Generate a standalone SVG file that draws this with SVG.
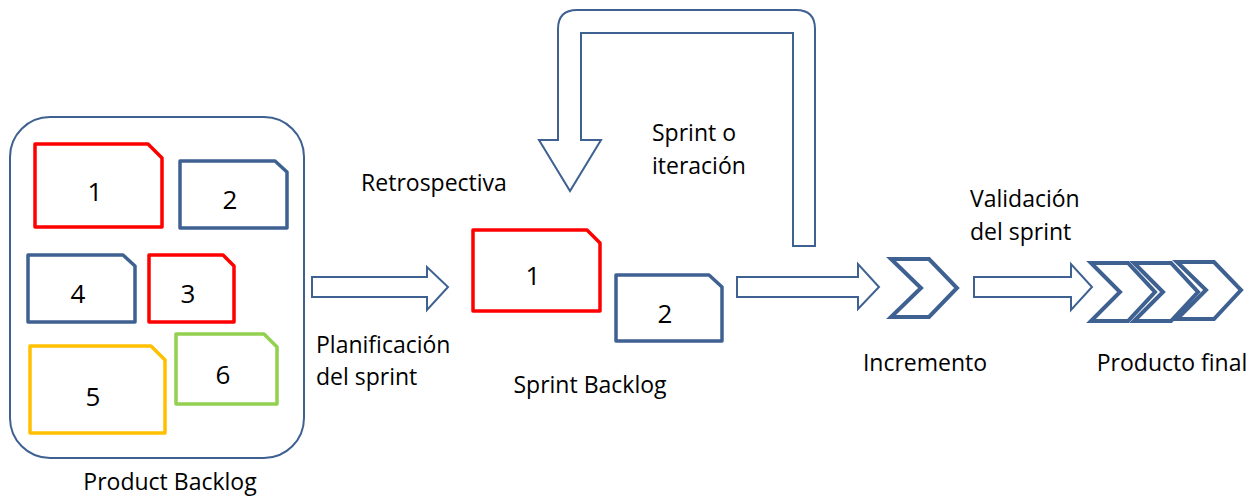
<svg xmlns="http://www.w3.org/2000/svg" width="1260" height="497" viewBox="0 0 1260 497">
<style>
.lbl{font-family:"Open Sans","Liberation Sans",sans-serif;font-size:23px;fill:#000}
.num{font-family:"Open Sans","Liberation Sans",sans-serif;font-size:26px;fill:#000;text-anchor:middle}
.card{fill:#fff;stroke-width:3.5;stroke-linejoin:round}
.blue{stroke:#3E6191}
.red{stroke:#FF0000}
.orange{stroke:#FFC000}
.green{stroke:#92D050}
.arrow{fill:#fff;stroke:#3E6191;stroke-width:2;stroke-linejoin:miter}
.chev{fill:#fff;stroke:#3E6191;stroke-width:4;stroke-linejoin:miter}
</style>
<rect width="1260" height="497" fill="#fff"/>
<g id="product-backlog">
<rect x="10" y="117" width="294" height="341" rx="40" ry="40" fill="#fff" stroke="#3E6191" stroke-width="2"/>
<g id="pb-1"><path class="card red" d="M35,144 H148 L162,158 V227 H35 Z"/><text class="num" x="95" y="201">1</text></g>
<g id="pb-2"><path class="card blue" d="M180,161 H275 L287,172 V228 H180 Z"/><text class="num" x="230" y="209">2</text></g>
<g id="pb-4"><path class="card blue" d="M28,255 H123 L135,266 V322 H28 Z"/><text class="num" x="78" y="303">4</text></g>
<g id="pb-3"><path class="card red" d="M149,255 H223 L234,266 V322 H149 Z"/><text class="num" x="188" y="303">3</text></g>
<g id="pb-5"><path class="card orange" d="M30,346 H151 L165,360 V433 H30 Z"/><text class="num" x="93" y="406">5</text></g>
<g id="pb-6"><path class="card green" d="M176,334 H264 L277,347 V404 H176 Z"/><text class="num" x="223" y="384">6</text></g>
<text class="lbl" x="170" y="490" text-anchor="middle">Product Backlog</text>
</g>
<g id="sprint-backlog">
<g id="sb-1"><path class="card red" d="M473,230 H587 L600,243 V311 H473 Z"/><text class="num" x="533" y="285">1</text></g>
<g id="sb-2"><path class="card blue" d="M616,275 H709 L722,287 V341 H616 Z"/><text class="num" x="665" y="323">2</text></g>
<text class="lbl" x="590" y="393" text-anchor="middle">Sprint Backlog</text>
</g>
<g id="incremento">
<path class="chev" d="M891,259 H929 L957,288 L929,317 H891 L921,288 Z"/>
<text class="lbl" x="925" y="371" text-anchor="middle">Incremento</text>
</g>
<g id="producto-final">
<path class="chev" d="M1091,263 H1128 L1155,292 L1128,321 H1091 L1120,292 Z"/>
<path class="chev" d="M1134,263 H1171 L1198,292 L1171,321 H1134 L1163,292 Z"/>
<path class="chev" d="M1177,262 H1214 L1241,290 L1214,319 H1177 L1206,290 Z"/>
<text class="lbl" x="1172" y="371" text-anchor="middle">Producto final</text>
</g>
<g id="connectors">
<path class="arrow" d="M312,277 H427 V267 L448,287 L427,310 V297 H312 Z"/>
<path class="arrow" d="M737,277 H858 V264 L879,287 L858,309 V297 H737 Z"/>
<path class="arrow" d="M974,277 H1071 V264 L1092,287 L1071,310 V297 H974 Z"/>
<path class="arrow" stroke-width="2.5" d="M793,246 V33 H581 V140 H601 L570,191 L539,140 H558 V29 Q558,10 577,10 H796 Q815,10 815,29 V246 Z"/>
</g>
<g id="labels">
<text class="lbl" x="434" y="191" text-anchor="middle">Retrospectiva</text>
<text class="lbl" x="316" y="353">Planificación</text>
<text class="lbl" x="316" y="385">del sprint</text>
<text class="lbl" x="652" y="141">Sprint o</text>
<text class="lbl" x="652" y="174">iteración</text>
<text class="lbl" x="970" y="207">Validación</text>
<text class="lbl" x="970" y="240">del sprint</text>
</g>
</svg>
